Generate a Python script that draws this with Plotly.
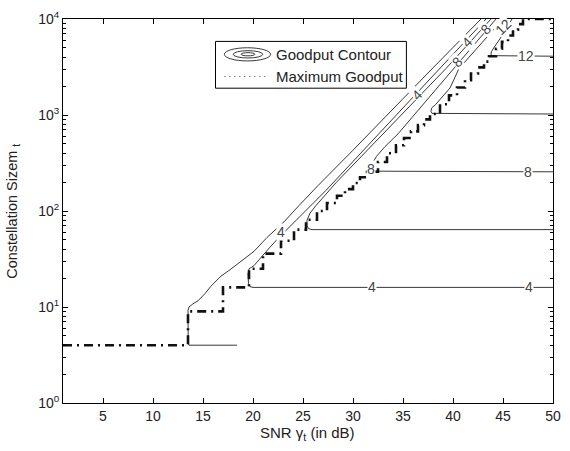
import math
import plotly.graph_objects as go

# ---- data ----
# Goodput contour lines (SNR in dB, constellation size)
c2_snr = [18.4, 13.6, 13.52, 13.5, 13.6, 14.0, 14.5, 15.2, 15.8, 16.8, 17.6, 18.4, 19.3, 20.1, 21.4, 22.2, 23.1, 24.6, 26.5, 30.0, 33.4, 38.0, 42.8]
c2_m = [4, 4, 4.2, 9.2, 10.0, 10.8, 11.6, 13.8, 16.5, 21, 24, 28, 33, 38, 53, 63, 77, 114, 184, 430, 1000, 3100, 10000]

c4_snr = [50, 20.0, 19.7, 19.55, 19.5, 19.6, 20.1, 20.7, 21.7, 22.6, 23.7, 25.0, 27.3, 43.3]
c4_m = [16, 16, 16.3, 17.5, 22, 25, 27, 32, 42, 53, 69, 95, 164, 10000]

c6_snr = [50, 25.9, 25.55, 25.4, 25.4, 25.7, 26.3, 28.3, 39.3, 43.8]
c6_m = [64, 64, 65.5, 70, 80, 95, 114, 197, 3050, 10000]

c8_snr = [50, 32.1, 31.8, 31.7, 31.75, 32.35, 33.2, 34.5, 40.1, 44.3]
c8_m = [256, 256, 260, 268, 290, 371, 469, 636, 3050, 10000]

c10_snr = [50, 38.2, 37.9, 37.8, 37.85, 38.25, 38.7, 39.7, 40.6, 45.0]
c10_m = [1024, 1024, 1040, 1090, 1180, 1283, 1443, 1910, 3050, 10000]

c12_snr = [50, 44.2, 43.9, 43.8, 43.85, 44.2, 44.7, 45.2, 45.9]
c12_m = [4096, 4096, 4150, 4300, 4600, 5225, 6160, 7425, 10000]

# Maximum goodput staircase (SNR threshold, constellation size)
stair_snr = [1.0, 13.5, 17.0, 19.6, 21.0, 22.8, 24.1, 25.3, 26.4, 27.4, 28.4, 29.2, 30.0, 30.7, 31.4,
             32.5, 33.4, 34.3, 35.1, 35.8, 36.5, 37.1, 37.7, 38.7, 39.6, 40.4, 41.2, 41.8, 42.5, 43.1,
             43.6, 44.3, 44.9, 45.5, 46.0, 46.5, 47.0, 50.0]
stair_m = [4, 9, 16, 25, 36, 49, 64, 81, 100, 121, 144, 169, 196, 225, 256,
           324, 400, 484, 576, 676, 784, 900, 1024, 1296, 1600, 1936, 2304, 2704, 3136, 3600,
           4096, 4900, 5776, 6724, 7744, 8836, 10000, 10000]

# Contour labels: text, SNR, size, angle
lab_text = ["4", "4", "8", "12", "4", "8", "4", "8", "4", "8", "12"]
lab_snr = [31.9, 47.6, 47.5, 47.3, 22.8, 31.8, 36.4, 40.4, 41.4, 43.3, 45.0]
lab_m = [16, 16, 256, 4096, 60, 274, 1622, 3597, 5750, 7800, 8330]
lab_ang = [0, 0, 0, 0, 0, 0, -45, -45, -45, -45, -45]

x_ticks = [5, 10, 15, 20, 25, 30, 35, 40, 45, 50]
y_ticks = [1, 10, 100, 1000, 10000]
y_ticktext = ["10<sup>0</sup>", "10<sup>1</sup>", "10<sup>2</sup>", "10<sup>3</sup>", "10<sup>4</sup>"]

FONT = "Liberation Sans, Arial, sans-serif"
TXT = "#222222"

fig = go.Figure()
line_style = dict(color="#222222", width=0.9)
for sx, sy in [(c2_snr, c2_m), (c4_snr, c4_m), (c6_snr, c6_m), (c8_snr, c8_m), (c10_snr, c10_m), (c12_snr, c12_m)]:
    fig.add_trace(go.Scatter(x=sx, y=sy, mode="lines", line=line_style, showlegend=False, hoverinfo="skip"))

fig.add_trace(go.Scatter(x=stair_snr, y=stair_m, mode="lines", line_shape="hv",
                         line=dict(color="#111111", width=2.6, dash="9px,5px,2px,5px"),
                         showlegend=False, hoverinfo="skip"))

# contour labels (annotation y on a log axis is given in log10 units)
for t, sx, sy, a in zip(lab_text, lab_snr, lab_m, lab_ang):
    fig.add_annotation(x=sx, y=math.log10(sy), yref="y", xref="x", text=t, showarrow=False, textangle=a,
                       font=dict(family=FONT, size=14, color="#444444"),
                       bgcolor="white", borderpad=0)


def px2paper_x(px):
    return (px - 63) / 498.0


def px2paper_y(py):
    return (403 - py) / 394.0


# manual legend
fig.add_shape(type="rect", xref="paper", yref="paper",
              x0=px2paper_x(218), x1=px2paper_x(412), y0=px2paper_y(80), y1=px2paper_y(32),
              line=dict(color="black", width=1), fillcolor="white")
for (x0, x1, y0, y1) in [(227, 274, 38.5, 52), (236, 266, 41.5, 49), (244, 258, 43.5, 46.8)]:
    fig.add_shape(type="circle", xref="paper", yref="paper",
                  x0=px2paper_x(x0), x1=px2paper_x(x1), y0=px2paper_y(y1), y1=px2paper_y(y0),
                  line=dict(color="#222222", width=0.9))
fig.add_shape(type="line", xref="paper", yref="paper",
              x0=px2paper_x(227), x1=px2paper_x(271), y0=px2paper_y(68), y1=px2paper_y(68),
              line=dict(color="#444444", width=1, dash="1px,4px"))
for txt, py in [("Goodput Contour", 45.5), ("Maximum Goodput", 68)]:
    fig.add_annotation(xref="paper", yref="paper", x=px2paper_x(277), y=px2paper_y(py),
                       xanchor="left", yanchor="middle", text=txt, showarrow=False,
                       font=dict(family=FONT, size=15, color=TXT))

# axis titles
fig.add_annotation(xref="paper", yref="paper", x=px2paper_x(311), y=px2paper_y(434),
                   text="SNR γ<sub>t</sub> (in dB)", showarrow=False, xanchor="center", yanchor="middle",
                   font=dict(family=FONT, size=15, color=TXT))
fig.add_annotation(xref="paper", yref="paper", x=px2paper_x(12), y=px2paper_y(206),
                   text="Constellation Sizem <sub>t</sub>", showarrow=False, textangle=-90,
                   xanchor="center", yanchor="middle",
                   font=dict(family=FONT, size=14.5, color=TXT))

minor_vals = [k * 10 ** e for e in range(0, 4) for k in range(2, 10)]

fig.update_layout(
    width=570, height=451,
    margin=dict(l=63, r=9, t=9, b=48),
    paper_bgcolor="white", plot_bgcolor="white",
    showlegend=False,
    font=dict(family=FONT, size=14, color=TXT),
    xaxis=dict(range=[1, 50], tickvals=x_ticks, ticks="inside", ticklen=5, tickcolor="black",
               showline=True, linecolor="black", linewidth=1, mirror="ticks",
               showgrid=False, zeroline=False, tickfont=dict(family=FONT, size=14, color=TXT)),
    yaxis=dict(type="log", range=[0, 4], tickvals=y_ticks, ticktext=y_ticktext,
               ticks="inside", ticklen=5, tickcolor="black",
               minor=dict(tickvals=minor_vals, ticks="inside", ticklen=3, tickcolor="black", showgrid=False),
               showline=True, linecolor="black", linewidth=1, mirror="ticks",
               showgrid=False, zeroline=False, tickfont=dict(family=FONT, size=14, color=TXT)),
)

fig.write_html("out.html")
